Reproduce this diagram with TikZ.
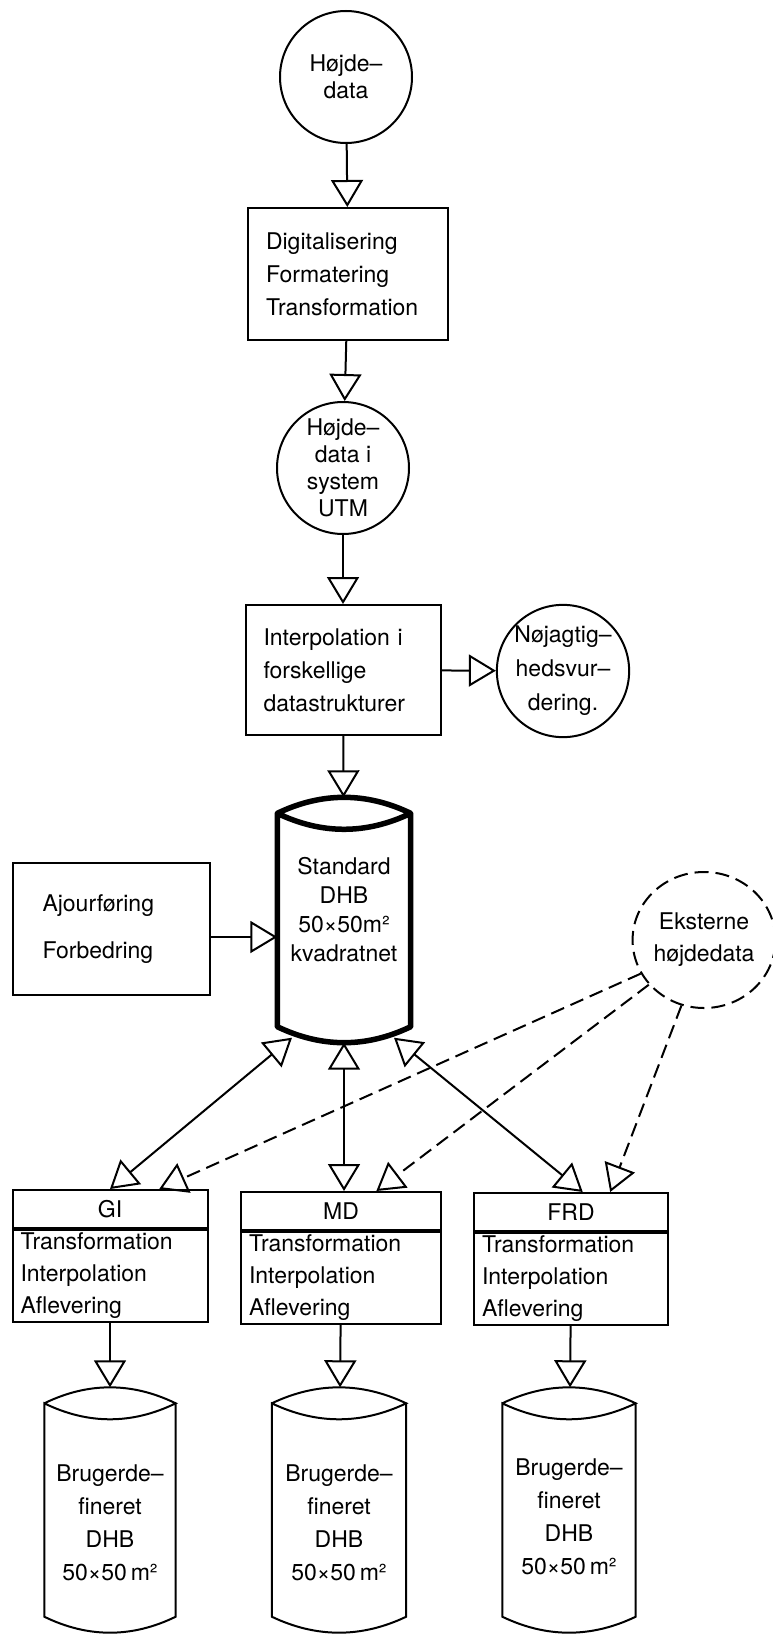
\documentclass[tikz,border=0pt]{standalone}
\usepackage{fontspec}
\setmainfont{TeX Gyre Heros}
\usetikzlibrary{arrows.meta,positioning,shapes.geometric,calc}
\tikzset{
  datum/.style={draw, circle, line width=2pt, minimum size=#1, inner sep=0pt,
                align=center, font=\fontsize{23}{27}\selectfont},
  extdatum/.style={draw, ellipse, line width=2pt, dash pattern=on 14pt off 7pt,
                   minimum width=132pt, minimum height=136pt, inner sep=0pt,
                   align=center, font=\fontsize{23}{32}\selectfont},
  proc/.style={draw, line width=2pt, minimum height=132pt, text width=#1,
               inner xsep=18pt, align=left, font=\fontsize{23}{33}\selectfont},
  hdr/.style={draw, line width=2pt, minimum width=#1, minimum height=38pt,
              inner sep=0pt, font=\fontsize{23}{33}\selectfont},
  task/.style={draw, line width=2pt, minimum height=92pt, text width=#1,
               inner xsep=8pt, inner ysep=0pt, align=left, font=\fontsize{23}{32}\selectfont},
  dbase/.style={minimum width=#1, minimum height=245pt, inner sep=0pt},
  dbtext/.style={align=center, inner sep=0pt, font=\fontsize{23}{33}\selectfont},
  flow/.style={->, line width=2pt},
  link/.style={<->, line width=2pt},
  extlink/.style={->, line width=2pt, dash pattern=on 14pt off 7pt},
}
% outline of a data base drum round a named node
\newcommand\dbshape[2][]{%
  \draw[#1] ($(#2.north west)+(0,16)$)
    .. controls ($(#2.north west)!0.333!(#2.north east)+(0,-5.3)$)
           and ($(#2.north west)!0.667!(#2.north east)+(0,-5.3)$)
    .. ($(#2.north east)+(0,16)$)
    .. controls ($(#2.north west)!0.667!(#2.north east)+(0,37.3)$)
           and ($(#2.north west)!0.333!(#2.north east)+(0,37.3)$)
    .. ($(#2.north west)+(0,16)$)
    -- ($(#2.south west)+(0,-16)$)
    .. controls ($(#2.south west)!0.333!(#2.south east)+(0,5.3)$)
           and ($(#2.south west)!0.667!(#2.south east)+(0,5.3)$)
    .. ($(#2.south east)+(0,-16)$)
    -- ($(#2.north east)+(0,16)$);}

\begin{document}
\begin{tikzpicture}[x=1pt, y=-1pt, >={Triangle[open, length=27pt, width=32pt]}]
  \useasboundingbox (0,0) rectangle (772,1635);
  % Main column
  \node[datum=132pt] (h1) at (346,77) {Højde--\\data};
  \node[proc=164pt] (b1) at (348,274) {Digitalisering\\Formatering\\Transformation};
  \node[datum=132pt] (h2) at (343,468) {Højde--\\data i\\system\\UTM};
  \node[proc=159pt, minimum height=130pt] (b2) at (343,670)
        {Interpolation i\\forskellige\\datastrukturer};
  \node[datum=130pt, font=\fontsize{23}{34}\selectfont] (acc) at (563,671)
        {Nøjagtig--\\hedsvur--\\dering.};

  % Standard DHB
  \node[dbase=133pt] (std) at (344,920) {};
  \node[dbtext, font=\fontsize{23}{29}\selectfont] (stdlabel) at ([yshift=10pt]std.center)
        {Standard\\DHB\\50×50m²\\kvadratnet};
  \node[proc=137pt, inner xsep=30pt, font=\fontsize{23}{47}\selectfont] (upd) at (111,929)
        {Ajourføring\\Forbedring};
  \node[extdatum] (ext) at (704,940) {Eksterne\\højdedata};

  % Users
  \node[hdr=195pt] (gi) at (110,1209) {GI};
  \node[task=179pt, below=0pt of gi] (gibody) {Transformation\\Interpolation\\Aflevering};
  \node[hdr=200pt] (md) at (341,1211) {MD};
  \node[task=184pt, below=0pt of md] (mdbody) {Transformation\\Interpolation\\Aflevering};
  \node[hdr=194pt] (frd) at (571,1212) {FRD};
  \node[task=178pt, below=0pt of frd] (frdbody) {Transformation\\Interpolation\\Aflevering};

  % User data bases
  \node[dbase=131pt] (gidb) at (110,1510) {};
  \node[dbase=134pt] (mddb) at (339,1510) {};
  \node[dbase=133pt] (frddb) at (569,1510) {};
  \node[dbtext] (gidblabel) at ([yshift=-13pt]gidb.center) {Brugerde--\\fineret\\DHB\\50×50\,m²};
  \node[dbtext] (mddblabel) at ([yshift=-13pt]mddb.center) {Brugerde--\\fineret\\DHB\\50×50\,m²};
  \node[dbtext] (frddblabel) at ([yshift=-7pt]frddb.center) {Brugerde--\\fineret\\DHB\\50×50\,m²};

  \dbshape[line width=5.5pt, line join=round]{std}
  \dbshape[line width=2pt]{gidb}
  \dbshape[line width=2pt]{mddb}
  \dbshape[line width=2pt]{frddb}

  % Connectors
  \draw[flow] (h1) -- (b1);
  \draw[flow] (b1) -- (h2);
  \draw[flow] (h2) -- (b2);
  \draw[flow] (b2) -- (acc);
  \draw[flow] (b2) -- (std);
  \coordinate (updout) at ($(upd.east)+(0,8)$);
  \draw[flow] (updout) -- (updout -| std.west);

  \coordinate (stdsw) at ($(std.south)+(-52,-5)$);
  \coordinate (stdse) at ($(std.south)+(50,-5)$);
  \draw[link] (stdsw) -- (gi.north);
  \draw[link] (std.south) -- (std.south |- md.north);
  \draw[link] (stdse) -- ($(frd.north)!0.12!(frd.north east)$);

  \draw[extlink] (ext.208) -- ($(gi.north)!0.5!(gi.north east)$);
  \draw[extlink] (ext.219) -- ($(md.north)!0.35!(md.north east)$);
  \draw[extlink] (ext.251) -- ($(frd.north)!0.4!(frd.north east)$);

  \draw[flow] (gibody) -- (gidb);
  \draw[flow] (mdbody) -- (mddb);
  \draw[flow] (frdbody) -- (frddb);
\end{tikzpicture}
\end{document}
